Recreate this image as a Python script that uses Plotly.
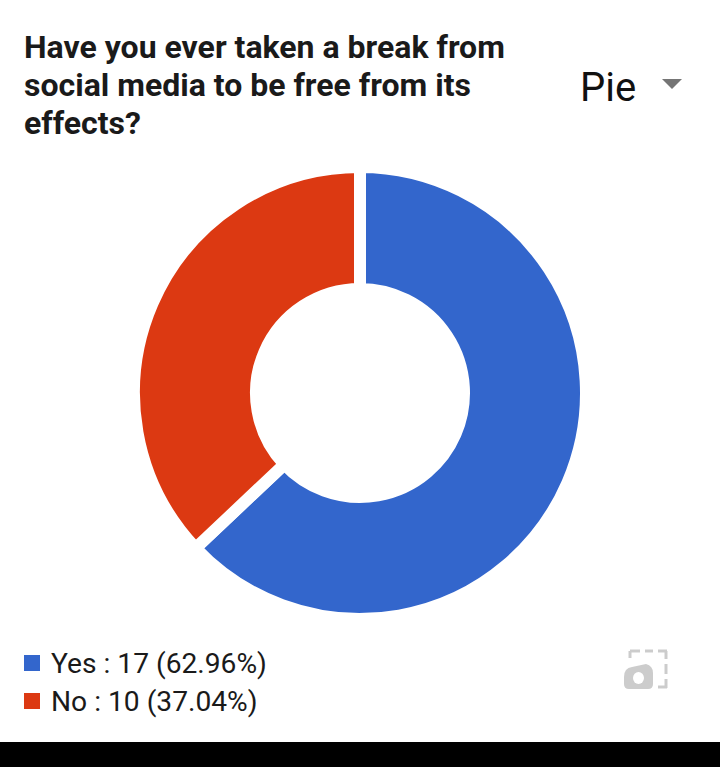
import plotly.graph_objects as go

categories = ["Yes", "No"]
counts = [17, 10]
percents = ["62.96", "37.04"]
colors = ["#3366CC", "#DC3912"]
title_lines = ["Have you ever taken a break from", "social media to be free from its", "effects?"]
chart_type = "Pie"

W, H = 720, 767
def px(x): return x / W
def py(y): return 1 - y / H

labels = [f"{c} : {n} ({p}%)" for c, n, p in zip(categories, counts, percents)]

cx, cy, R = 360, 393, 226
fig = go.Figure(go.Pie(
    labels=labels, values=counts, hole=104 / 226, sort=False, direction="clockwise",
    rotation=0, textinfo="none", hoverinfo="label",
    marker=dict(colors=colors, line=dict(color="white", width=12)),
    domain=dict(x=[px(cx - R), px(cx + R)], y=[py(cy + R), py(cy - R)]),
))

icon = "#CCCCCC"
shapes = [
    dict(type="rect", xref="paper", yref="paper", x0=0, x1=1, y0=py(767), y1=py(742),
         fillcolor="black", line_width=0, layer="above"),
    dict(type="path", xref="paper", yref="paper",
         path=f"M {px(662)} {py(79)} L {px(682)} {py(79)} L {px(672)} {py(89)} Z",
         fillcolor="#757575", line_width=0),
    dict(type="path", xref="paper", yref="paper",
         path=(f"M {px(624)} {py(677)} Q {px(624)} {py(668)} {px(632)} {py(667)} "
               f"L {px(646)} {py(664)} Q {px(653)} {py(666)} {px(653)} {py(673)} L {px(653)} {py(684)} "
               f"Q {px(653)} {py(689)} {px(648)} {py(689)} L {px(629)} {py(689)} Q {px(624)} {py(689)} {px(624)} {py(684)} Z"),
         fillcolor=icon, line_width=0),
    dict(type="circle", xref="paper", yref="paper", x0=px(633), x1=px(644), y0=py(684), y1=py(672),
         fillcolor="white", line_width=0),
]
for x0, y0, x1, y1 in [(630, 651, 640, 651), (645, 651, 653, 651), (658, 651, 667, 651),
                       (630, 651, 630, 658), (666, 651, 666, 659), (666, 664, 666, 674),
                       (666, 679, 666, 688), (658, 687, 667, 687)]:
    shapes.append(dict(type="line", xref="paper", yref="paper", x0=px(x0), x1=px(x1),
                       y0=py(y0), y1=py(y1), line=dict(color=icon, width=3)))

annotations = [
    dict(text=chart_type, xref="paper", yref="paper", x=px(581), y=py(87),
         xanchor="left", yanchor="middle", showarrow=False, xshift=-3,
         font=dict(size=40, color="#111111", family="Roboto")),
]
for i, line in enumerate(title_lines):
    annotations.append(dict(text=line, xref="paper", yref="paper", x=px(24), y=py(47 + 38 * i),
                            xanchor="left", yanchor="middle", align="left", showarrow=False,
                            xshift=-2,
                            font=dict(size=32, color="#1A1A1A", family="Roboto", weight="bold")))
for i, (label, color) in enumerate(zip(labels, colors)):
    mid = 663 + 38 * i
    shapes.append(dict(type="rect", xref="paper", yref="paper", x0=px(24), x1=px(40),
                       y0=py(mid + 8), y1=py(mid - 8), fillcolor=color, line_width=0))
    annotations.append(dict(text=label, xref="paper", yref="paper", x=px(51), y=py(mid),
                            xanchor="left", yanchor="middle", showarrow=False, xshift=-2,
                            font=dict(size=28.2, color="#1A1A1A", family="Roboto")))

fig.update_layout(
    width=W, height=H, autosize=False,
    margin=dict(l=0, r=0, t=0, b=0),
    paper_bgcolor="white", plot_bgcolor="white",
    font=dict(family="Roboto, sans-serif", color="#222222"),
    showlegend=False,
    shapes=shapes,
    annotations=annotations,
)
fig.write_html("out.html", config=dict(displayModeBar=False),
               post_script="document.body.style.margin='0';document.body.style.overflow='hidden';")
